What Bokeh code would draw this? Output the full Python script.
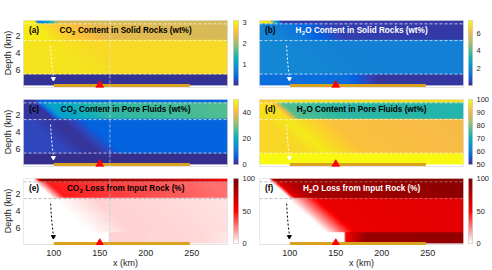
import numpy as np
from bokeh.plotting import figure
from bokeh.layouts import row, column, Spacer
from bokeh.models import Range1d, LinearColorMapper, FixedTicker, Span
from bokeh.core.properties import value
from bokeh.embed import file_html
from bokeh.resources import INLINE

# ---------------- data ----------------
X_RANGE = [67, 289]            # km
DEPTH_RANGE = [0.1, 7.85]      # km
LAYER_BOUNDS = [0.5, 2.5, 6.5] # km, layer interfaces (dashed lines)
FRONT_X0 = 76.5                # km, reaction front x at surface
FRONT_SLOPE = 10.5             # km x per km depth
DEEP_FRONT_X = 160             # km, front in the lowest layer
VLINE_X = 161
ARC_X = [100, 248]
VOLCANO_X = [150]
PATH_X = [96.5, 97.2, 98.3, 99.5]
PATH_DEPTH = [3.1, 4.4, 5.8, 6.8]
X_TICKS = [100, 150, 200, 250]
DEPTH_TICKS = [2, 4, 6]

# per layer (top strip, upper, middle, lowest): (distance from front in km, value)
CO2_SOLID = [([-1, 2, 12, 25], [3.0, 0.6, 1.0, 2.3]),
             ([-5, 10, 60, 200], [2.95, 2.75, 2.4, 2.3]),
             ([-10, 40], [2.9, 2.8]),
             ([0], [0.05])]
H2O_SOLID = [([-2, 2, 10], [7.0, 3.5, 0.3]),
             ([-8, 60, 200], [1.8, 0.4, 0.25]),
             ([-10, 40, 200], [1.9, 1.75, 1.7]),
             ([-1, 35], [1.2, 0.25])]
CO2_FLUID = [([-2, 5], [1.5, 7]),
             ([-3, 8, 60, 200], [1.5, 17, 24, 27]),
             ([-30, -5, 5, 30], [3.5, 1.2, 1.5, 6.5]),
             ([0], [0.5])]
H2O_FLUID = [([-2, 5], [93, 96]),
             ([-3, 8, 60, 200], [96, 77, 74, 73]),
             ([-30, -5, 5, 40, 200], [95, 97.5, 96, 91.5, 90]),
             ([0], [99.5])]
CO2_LOSS = [([-1, 6, 140, 210], [0, 95, 80, 50]),
            ([-4, 10, 70, 190], [0, 45, 38, 28]),
            ([-6, 40, 100, 200], [0, 9, 8, 5]),
            ([-1, 1, 100, 130], [0, 9, 8, 5])]
H2O_LOSS = [([-2, 3, 60], [0, 90, 95]),
            ([-3, 4, 25, 200], [0, 65, 85, 95]),
            ([-6, 28, 200], [0, 58, 62]),
            ([-1, 1, 22, 130], [0, 55, 90, 93])]

CBAR_RANGES = {"a": (0, 3.1), "b": (0, 7.45), "c": (0, 50), "d": (50, 100), "e": (0, 100), "f": (0, 100)}
CBAR_TICKS = {"a": [1, 2, 3], "b": [2, 4, 6], "c": [0, 20, 40], "d": [50, 60, 70, 80, 90, 100],
              "e": [0, 50, 100], "f": [0, 50, 100]}
TITLES = {"a": ("CO", "2", " Content in Solid Rocks (wt%)"),
          "b": ("H", "2", "O Content in Solid Rocks (wt%)"),
          "c": ("CO", "2", " Content in Pore Fluids (wt%)"),
          "d": ("H", "2", "O Content in Pore Fluids (wt%)"),
          "e": ("CO", "2", " Loss from Input Rock (%)"),
          "f": ("H", "2", "O Loss from Input Rock (%)")}
Y_LABEL = "Depth (km)"
X_LABEL = "x (km)"

# ---------------- colormaps ----------------
PARULA_ANCHORS = [(0.2081, 0.1663, 0.5292), (0.1959, 0.2645, 0.7279), (0.0117, 0.3875, 0.8820),
                  (0.0629, 0.4737, 0.8554), (0.0793, 0.5200, 0.8312), (0.0343, 0.5966, 0.8199),
                  (0.0228, 0.6535, 0.7768), (0.0843, 0.6928, 0.7062), (0.2178, 0.7250, 0.6193),
                  (0.3953, 0.7459, 0.5244), (0.5709, 0.7485, 0.4494), (0.7184, 0.7411, 0.3905),
                  (0.8507, 0.7299, 0.3360), (0.9739, 0.7314, 0.2666), (0.9880, 0.8066, 0.1794),
                  (0.9589, 0.8949, 0.1132), (0.9763, 0.9831, 0.0538)]
RED_ANCHORS = [(1, 1, 1), (1, 0, 0), (0.5, 0, 0)]


def make_palette(anchors, n=256):
    a = np.array(anchors)
    t = np.linspace(0, 1, len(a))
    tt = np.linspace(0, 1, n)
    cols = np.stack([np.interp(tt, t, a[:, k]) for k in range(3)], axis=1)
    return ["#%02x%02x%02x" % tuple(int(round(c * 255)) for c in col) for col in cols]


PARULA = make_palette(PARULA_ANCHORS)
REDS = make_palette(RED_ANCHORS)

NX, ND = 444, 200
xs = np.linspace(X_RANGE[0], X_RANGE[1], NX)
ds = np.linspace(DEPTH_RANGE[0], DEPTH_RANGE[1], ND)


def build_field(layers):
    rows = []
    for d in ds:
        k = int(np.searchsorted(LAYER_BOUNDS, d))
        front = DEEP_FRONT_X if k == 3 else FRONT_X0 + FRONT_SLOPE * d
        dist, vals = layers[k]
        rows.append(np.interp(xs - front, dist, vals))
    return np.array(rows)[::-1]  # row 0 = deepest


# ---------------- styling ----------------
FONT = "Liberation Sans"
INK = "#262626"
AW = {' ': 278, '(': 333, ')': 333, '%': 889, '2': 556, 'C': 722, 'H': 722, 'O': 778, 'R': 722,
      'S': 667, 'I': 278, 'L': 611, 'P': 667, 'F': 611, 'a': 556, 'c': 556, 'd': 611, 'e': 556,
      'f': 333, 'i': 278, 'k': 556, 'l': 278, 'm': 889, 'n': 611, 'o': 611, 'p': 611, 'r': 389,
      's': 556, 't': 333, 'u': 611, 'w': 778, 'x': 556}


def tw(s, size):
    return sum(AW.get(ch, 556) for ch in s) * size / 1000.0


FW, FH = 204, 67
CB_W, CB_H = 5, 65
YSTRIP_W = 23
ROW_TOP = [20, 7, 7]
ROW_H = [92, 79, 74]
XLAB_H = 25
TS, SS = 8.2, 6.0
Y_RANGE = (-8.1, -0.1)


def bare(width, height, xr, yr, mbl=0, mbr=0, mbt=0, mbb=0, **kw):
    p = figure(width=width, height=height, x_range=xr, y_range=yr, output_backend="svg",
               toolbar_location=None, min_border_left=mbl, min_border_right=mbr,
               min_border_top=mbt, min_border_bottom=mbb, **kw)
    p.xgrid.visible = False
    p.ygrid.visible = False
    p.background_fill_color = "white"
    p.border_fill_color = "white"
    p.outline_line_color = None
    return p


def panel(key, layers, palette, col, r):
    low, high = CBAR_RANGES[key]
    mbl = 0 if col == 0 else 1
    mbr = 2
    mbt = ROW_TOP[r]
    mbb = ROW_H[r] - mbt - FH
    p = bare(mbl + FW + mbr, ROW_H[r], Range1d(*X_RANGE), Range1d(*Y_RANGE), mbl, mbr, mbt, mbb,
             x_axis_location=None, y_axis_location=None)
    p.outline_line_color = "#d0d0d0"
    p.outline_line_width = 0.6
    mapper = LinearColorMapper(palette=palette, low=low, high=high)
    p.image(image=[build_field(layers)], x=X_RANGE[0], y=-DEPTH_RANGE[1],
            dw=X_RANGE[1] - X_RANGE[0], dh=DEPTH_RANGE[1] - DEPTH_RANGE[0], color_mapper=mapper)

    loss = key in ("e", "f")
    hcol = "#9a9a9a" if loss else "white"
    for b in (LAYER_BOUNDS[:2] if loss else LAYER_BOUNDS):
        p.add_layout(Span(location=-b, dimension="width", line_color=hcol, line_dash="3 2",
                          line_width=0.8, line_alpha=0.85))
    if col == 0:
        vcol = "#8fdde8" if loss else "#e8e8e8"
        p.add_layout(Span(location=VLINE_X, dimension="height", line_color=vcol, line_dash="3 2",
                          line_width=0.8, line_alpha=0.8))
    pcol = "black" if loss else "white"
    p.line(PATH_X, [-d for d in PATH_DEPTH], line_color=pcol, line_dash="2 2", line_width=1)
    p.scatter([PATH_X[-1]], [-PATH_DEPTH[-1] - 0.25], marker="inverted_triangle", size=4,
              color=pcol)
    p.line(ARC_X, [-DEPTH_RANGE[1]] * 2, line_color="#d9a21f", line_width=3)
    p.scatter(VOLCANO_X, [-DEPTH_RANGE[1]], marker="triangle", size=8, color="#ff0000")

    # title with subscript (leading spaces are measured, not drawn)
    pre, sub, post = TITLES[key]
    total = tw(pre, TS) + tw(sub, SS) + tw(post, TS)
    start = FW / 2.0 - total / 2.0
    tcol = "white" if key in ("b", "f") else "black"
    ty = -(DEPTH_RANGE[0] + 9.5 / 8.375)
    common = dict(text_font=value(FONT), text_font_style="bold", text_baseline="middle",
                  text_align="left", text_color=tcol)
    post_x = start + tw(pre, TS) + tw(sub, SS) + 0.4 + (tw(" ", TS) if post.startswith(" ") else 0)
    p.text(x=[X_RANGE[0]], y=[ty], text=[pre], x_offset=start, text_font_size=f"{TS}px", **common)
    p.text(x=[X_RANGE[0]], y=[ty], text=[sub], x_offset=start + tw(pre, TS) + 0.2, y_offset=3,
           text_font_size=f"{SS}px", **common)
    p.text(x=[X_RANGE[0]], y=[ty], text=[post.strip()], x_offset=post_x,
           text_font_size=f"{TS}px", **common)
    lab = dict(common)
    lab["text_color"] = "black"
    p.text(x=[X_RANGE[0]], y=[-(DEPTH_RANGE[0] + 10 / 8.375)], text=[f"({key})"], x_offset=5.5,
           text_font_size=f"{TS}px", **lab)
    return p


def ystrip(r):
    mbt = ROW_TOP[r]
    mbb = ROW_H[r] - mbt - FH
    p = bare(YSTRIP_W, ROW_H[r], Range1d(0, YSTRIP_W), Range1d(*Y_RANGE), 0, 0, mbt, mbb,
             x_axis_location=None, y_axis_location=None)
    p.text(x=[YSTRIP_W - 3] * len(DEPTH_TICKS), y=[-t for t in DEPTH_TICKS],
           text=[str(t) for t in DEPTH_TICKS], text_align="right", text_baseline="middle",
           text_font=value(FONT), text_font_size="9px", text_color=INK)
    p.text(x=[7], y=[-(DEPTH_RANGE[0] + DEPTH_RANGE[1]) / 2], text=[Y_LABEL], angle=np.pi / 2,
           text_align="center", text_baseline="middle", text_font=value(FONT),
           text_font_size="9px", text_color=INK)
    return p


def xstrip(col):
    mbl = 0 if col == 0 else 1
    p = bare(mbl + FW + 2, XLAB_H, Range1d(*X_RANGE), Range1d(0, XLAB_H), mbl, 2, 0, 0,
             x_axis_location=None, y_axis_location=None)
    p.text(x=X_TICKS, y=[XLAB_H - 7] * len(X_TICKS), text=[str(t) for t in X_TICKS],
           text_align="center", text_baseline="middle", text_font=value(FONT),
           text_font_size="9px", text_color=INK)
    p.text(x=[(X_RANGE[0] + X_RANGE[1]) / 2], y=[XLAB_H - 17], text=[X_LABEL],
           text_align="center", text_baseline="middle", text_font=value(FONT),
           text_font_size="9px", text_color=INK)
    return p


def cbar(key, palette, col, r):
    low, high = CBAR_RANGES[key]
    mbl = 4 if col == 0 else 3
    mbr = 20 if col == 0 else 19
    mbt = ROW_TOP[r]
    h = ROW_H[r] + (XLAB_H if r == 2 else 0)
    mbb = h - mbt - CB_H
    p = bare(mbl + CB_W + mbr, h, Range1d(0, 1), Range1d(low, high), mbl, mbr, mbt, mbb,
             x_axis_location=None, y_axis_location="right")
    p.outline_line_color = "#b0b0b0"
    p.outline_line_width = 0.6
    mapper = LinearColorMapper(palette=palette, low=low, high=high)
    p.image(image=[np.linspace(low, high, 256).reshape(-1, 1)], x=0, y=low, dw=1, dh=high - low,
            color_mapper=mapper)
    ax = p.yaxis[0]
    ax.ticker = FixedTicker(ticks=CBAR_TICKS[key])
    ax.axis_line_color = None
    ax.major_tick_line_color = None
    ax.minor_tick_line_color = None
    ax.major_tick_out = 0
    ax.major_tick_in = 0
    ax.minor_tick_out = 0
    ax.minor_tick_in = 0
    ax.major_label_standoff = 4
    ax.major_label_text_font = FONT
    ax.major_label_text_font_size = "7.5px"
    ax.major_label_text_color = INK
    return p


specs = [("a", CO2_SOLID, PARULA), ("b", H2O_SOLID, PARULA),
         ("c", CO2_FLUID, PARULA), ("d", H2O_FLUID, PARULA),
         ("e", CO2_LOSS, REDS), ("f", H2O_LOSS, REDS)]

cols = [column([ystrip(r) for r in range(3)] + [Spacer(width=YSTRIP_W, height=XLAB_H)], spacing=0)]
for c in range(2):
    pcol, ccol = [], []
    for r in range(3):
        key, layers, pal = specs[r * 2 + c]
        pcol.append(panel(key, layers, pal, c, r))
        ccol.append(cbar(key, pal, c, r))
    pcol.append(xstrip(c))
    cols.append(column(pcol, spacing=0))
    cols.append(column(ccol, spacing=0))

root = row(cols, spacing=0)
open("out.html", "w").write(file_html(root, INLINE))
